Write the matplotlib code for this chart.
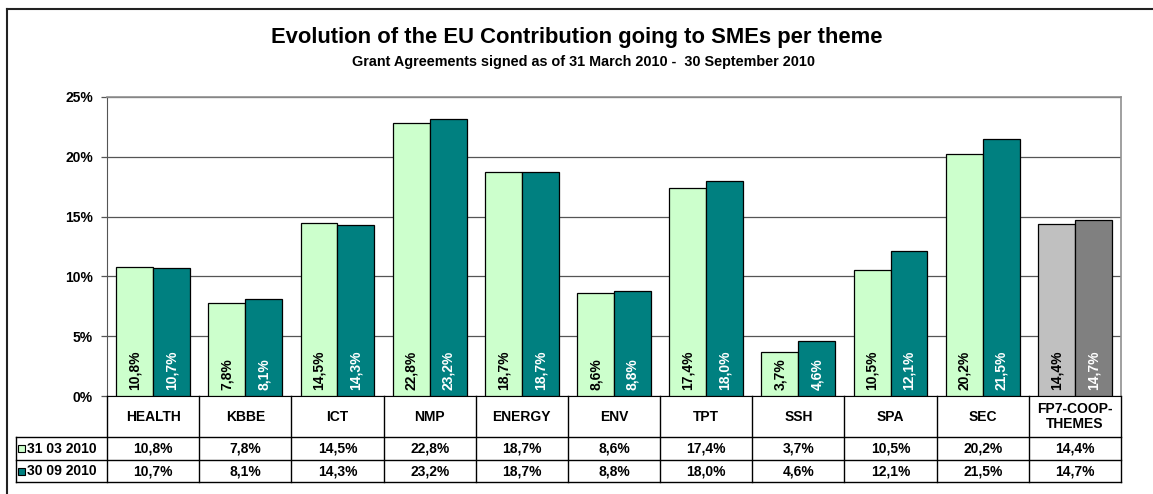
import matplotlib
matplotlib.use("Agg")
import matplotlib.pyplot as plt
import numpy as np
from matplotlib.lines import Line2D
from matplotlib.patches import Rectangle

plt.rcParams["font.family"] = ["Liberation Sans", "DejaVu Sans"]
plt.rcParams["font.weight"] = "bold"

# data
themes = ["HEALTH", "KBBE", "ICT", "NMP", "ENERGY", "ENV", "TPT", "SSH",
          "SPA", "SEC", "FP7-COOP-\nTHEMES"]
mar2010 = [10.8, 7.8, 14.5, 22.8, 18.7, 8.6, 17.4, 3.7, 10.5, 20.2, 14.4]
sep2010 = [10.7, 8.1, 14.3, 23.2, 18.7, 8.8, 18.0, 4.6, 12.1, 21.5, 14.7]
series_names = ["31 03 2010", "30 09 2010"]
yticks = [0, 5, 10, 15, 20, 25]

LIGHT = "#CCFFCC"
TEAL = "#008080"
GREY_L = "#C0C0C0"
GREY_D = "#808080"
FS = 10

W, H = 1153, 494
fig = plt.figure(figsize=(W / 100, H / 100), dpi=100)


def fx(px):
    return px / W


def fy(py):
    return 1 - py / H


def pct(v):
    return f"{v:.1f}%".replace(".", ",")


# outer frame (only top and left visible)
fig.add_artist(Line2D([fx(7), 1.0], [fy(9), fy(9)], color="#222222", lw=1.5))
fig.add_artist(Line2D([fx(7), fx(7)], [fy(9), 0.0], color="#222222", lw=1.5))

fig.text(fx(577), fy(38), "Evolution of the EU Contribution going to SMEs per theme",
         ha="center", va="center", fontsize=15.8, fontweight="bold")
fig.text(fx(583), fy(62), "Grant Agreements signed as of 31 March 2010 -  30 September 2010",
         ha="center", va="center", fontsize=10.4, fontweight="bold")

x_left, x_right = 107, 1121
y_top, y_zero, y_bot = 97, 396, 482
ax = fig.add_axes([fx(x_left), fy(y_zero), fx(x_right) - fx(x_left), fy(y_top) - fy(y_zero)])

n = len(themes)
x = np.arange(n)
w = 0.4
c1 = [LIGHT] * (n - 1) + [GREY_L]
c2 = [TEAL] * (n - 1) + [GREY_D]
ax.bar(x - w / 2, mar2010, width=w, color=c1, edgecolor="black", lw=0.9, zorder=3)
ax.bar(x + w / 2, sep2010, width=w, color=c2, edgecolor="black", lw=0.9, zorder=3)

for i in range(n):
    ax.annotate(pct(mar2010[i]), (x[i] - w / 2, 0),
                xytext=(0, 4.5), textcoords="offset points", rotation=90,
                ha="center", va="bottom", fontsize=FS, fontweight="bold",
                color="black", zorder=4)
    ax.annotate(pct(sep2010[i]), (x[i] + w / 2, 0),
                xytext=(0, 4.5), textcoords="offset points", rotation=90,
                ha="center", va="bottom", fontsize=FS, fontweight="bold",
                color="white", zorder=4)

ax.set_xlim(-0.5, n - 0.5)
ax.set_ylim(0, 25)
ax.set_yticks(yticks)
ax.set_yticklabels([f"{t}%" for t in yticks], fontsize=FS, fontweight="bold")
ax.set_xticks([])
ax.yaxis.grid(True, color="#555555", lw=0.9, zorder=0)
ax.set_axisbelow(True)
ax.tick_params(axis="y", length=4, width=0.9, color="#555555", pad=6)
for s in ["top", "right"]:
    ax.spines[s].set_color("#909090")
    ax.spines[s].set_linewidth(1.2)
ax.spines["left"].set_color("#555555")
ax.spines["bottom"].set_color("black")

# data table below the plot
tax = fig.add_axes([fx(x_left), fy(y_bot), fx(x_right) - fx(x_left), fy(y_zero) - fy(y_bot)])
tax.set_xlim(-0.5, n - 0.5)
tax.set_ylim(y_bot - y_zero, 0)
tax.axis("off")

cw = (x_right - x_left) / n
leg_x = -0.5 - (x_left - 16) / cw
r1, r2, r3 = 41, 64, 86
kw = dict(color="black", lw=1.0, clip_on=False)

for k in range(n + 1):
    tax.plot([k - 0.5, k - 0.5], [0, r3], **kw)
tax.plot([leg_x, leg_x], [r1, r3], **kw)
for yy in (r1, r2, r3):
    tax.plot([leg_x, n - 0.5], [yy, yy], **kw)

for i in range(n):
    tax.text(x[i], r1 / 2, themes[i], ha="center", va="center",
             fontsize=FS, fontweight="bold", linespacing=1.05)
    tax.text(x[i], (r1 + r2) / 2, pct(mar2010[i]),
             ha="center", va="center", fontsize=FS, fontweight="bold")
    tax.text(x[i], (r2 + r3) / 2, pct(sep2010[i]),
             ha="center", va="center", fontsize=FS, fontweight="bold")

sq = 7 / cw
for yy0, yy1, col, name in [(r1, r2, LIGHT, series_names[0]), (r2, r3, TEAL, series_names[1])]:
    yc = (yy0 + yy1) / 2
    tax.add_patch(Rectangle((leg_x + 2 / cw, yc - 3.5), sq, 7, facecolor=col,
                            edgecolor="black", lw=0.8, clip_on=False))
    tax.text(leg_x + 11 / cw, yc, name, ha="left", va="center",
             fontsize=FS, fontweight="bold")

fig.savefig("out.png", dpi=100)
